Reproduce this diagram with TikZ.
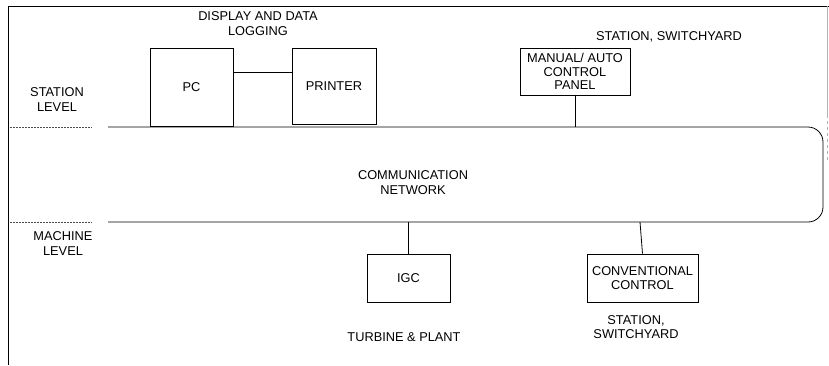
\documentclass[tikz,border=0pt]{standalone}
\usepackage{fontspec}
\setmainfont{Liberation Sans}
\begin{document}
\begin{tikzpicture}[x=1pt,y=-1pt,
  every node/.style={font=\fontsize{12.8}{14.5}\selectfont, align=center, inner sep=0pt},
  blk/.style={draw, line width=0.8pt, minimum width=#1},
  ln/.style={line width=0.8pt},
  lvl/.style={line width=0.8pt, dash pattern=on 2pt off 1pt, black!70}]
\useasboundingbox (0,0) rectangle (829,365);
% frame
\draw[ln] (8,365) -- (8,6) -- (829,6);
\draw[gray!60, line width=0.5pt] (827,6) -- (827,115);
\draw[gray!60, line width=0.5pt, dashed] (827,115) -- (827,160);
% boxes
\node[blk=83, minimum height=78] (pc) at (191.5,87) {PC};
\node[blk=84, minimum height=76] (printer) at (334,86) {PRINTER};
\node[blk=110, minimum height=47, font=\fontsize{12.8}{13.5}\selectfont] (manual) at (575,71.5) {MANUAL/ AUTO\\CONTROL\\PANEL};
\node[blk=83, minimum height=48] (igc) at (408.5,278) {IGC};
\node[blk=111, minimum height=48] (conv) at (642.5,278) {CONVENTIONAL\\CONTROL};
% network
\coordinate (ntop) at (108,127);
\coordinate (nbot) at (108,222);
\draw[ln, rounded corners=15pt] (ntop) -- (823,127) -- (823,222) -- (nbot);
\node (net) at (413,182.5) {COMMUNICATION\\NETWORK};
% level separators
\draw[lvl] (10,127) -- (92,127);
\draw[lvl] (10,222) -- (92,222);
% connectors
\draw[ln] ([yshift=15pt]pc.east) -- ([yshift=15pt]pc.east -| printer.west);
\draw[ln] (pc.south) -- (pc.south |- ntop);
\draw[ln] (manual.south) -- (manual.south |- ntop);
\draw[ln] (igc.north) -- (igc.north |- nbot);
\draw[ln] (conv.north) -- ([xshift=-2.5pt]conv.north |- nbot);
% labels
\node (disp) at (258,23.5) {DISPLAY AND DATA\\LOGGING};
\node (stl) at (57,99.5) {STATION\\LEVEL};
\node (ssw1) at (669,37) {STATION, SWITCHYARD};
\node (mcl) at (63,243.5) {MACHINE\\LEVEL};
\node (tp) at (404,337) {TURBINE \& PLANT};
\node (ssw2) at (636,327) {STATION,\\SWITCHYARD};
\end{tikzpicture}
\end{document}
